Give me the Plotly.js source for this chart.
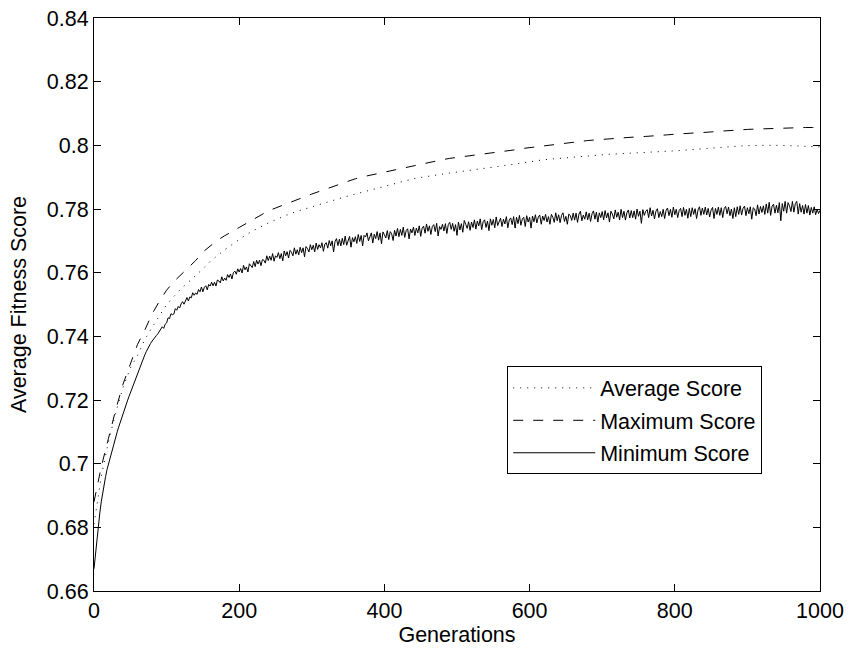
<!DOCTYPE html>
<html>
<head>
<meta charset="utf-8">
<script src="https://cdn.plot.ly/plotly-3.0.1.min.js"></script>
<style>html,body{margin:0;padding:0;background:#fff;}#chart{width:850px;height:654px;}</style>
</head>
<body>
<div id="chart"></div>
<script>
// Generations for the smooth series (step 10)
var genCoarse = [];
for (var g = 0; g <= 1000; g += 10) genCoarse.push(g);
// Generations for the noisy minimum series (step 2)
var genFine = [];
for (var h = 0; h <= 1000; h += 2) genFine.push(h);

var averageScore = [
0.6810,0.6960,0.7070,0.7160,0.7240,0.7300,0.7340,0.7390,0.7428,0.7465,
0.7500,0.7525,0.7550,0.7570,0.7590,0.7612,0.7635,0.7655,0.7672,0.7688,
0.7705,0.7720,0.7733,0.7745,0.7756,0.7766,0.7776,0.7785,0.7793,0.7800,
0.7808,0.7815,0.7822,0.7829,0.7835,0.7841,0.7847,0.7853,0.7860,0.7866,
0.7872,0.7878,0.7884,0.7890,0.7895,0.7899,0.7903,0.7907,0.7910,0.7913,
0.7916,0.7919,0.7922,0.7925,0.7928,0.7930,0.7933,0.7937,0.7941,0.7945,
0.7949,0.7952,0.7955,0.7957,0.7959,0.7962,0.7964,0.7966,0.7967,0.7968,
0.7970,0.7972,0.7973,0.7974,0.7975,0.7976,0.7977,0.7979,0.7980,0.7982,
0.7983,0.7984,0.7986,0.7988,0.7990,0.7992,0.7994,0.7996,0.7997,0.7998,
0.7999,0.8000,0.8000,0.8000,0.8000,0.8000,0.7999,0.7998,0.7997,0.7996,
0.7995];

var maximumScore = [
0.6880,0.6990,0.7080,0.7170,0.7250,0.7310,0.7375,0.7420,0.7470,0.7510,
0.7545,0.7572,0.7595,0.7615,0.7638,0.7665,0.7685,0.7702,0.7716,0.7728,
0.7742,0.7755,0.7768,0.7782,0.7794,0.7803,0.7812,0.7820,0.7830,0.7840,
0.7847,0.7855,0.7863,0.7871,0.7879,0.7888,0.7895,0.7901,0.7906,0.7911,
0.7916,0.7921,0.7926,0.7932,0.7937,0.7942,0.7947,0.7951,0.7955,0.7959,
0.7962,0.7964,0.7966,0.7969,0.7972,0.7975,0.7978,0.7982,0.7986,0.7990,
0.7993,0.7996,0.7999,0.8001,0.8004,0.8007,0.8010,0.8013,0.8015,0.8017,
0.8019,0.8020,0.8022,0.8024,0.8026,0.8027,0.8028,0.8029,0.8031,0.8033,
0.8035,0.8036,0.8038,0.8039,0.8041,0.8042,0.8044,0.8046,0.8048,0.8049,
0.8050,0.8051,0.8052,0.8053,0.8054,0.8055,0.8056,0.8056,0.8056,0.8056,
0.8056];

var minimumScore = [
// 0 - 100
0.6670,0.6720,0.6765,0.6805,0.6845,0.6880,0.6910,0.6935,0.6960,0.6982,
0.7000,0.7017,0.7033,0.7050,0.7067,0.7083,0.7100,0.7115,0.7130,0.7145,
0.7160,0.7172,0.7185,0.7197,0.7210,0.7222,0.7235,0.7248,0.7262,0.7275,
0.7288,0.7298,0.7308,0.7318,0.7330,0.7342,0.7352,0.7362,0.7370,0.7378,
0.7385,0.7392,0.7398,0.7403,0.7408,0.7415,0.7420,0.7430,0.7425,0.7438,
0.7442,
// 102 - 300
0.7458,0.7456,0.7471,0.7468,0.7470,0.7487,0.7482,0.7494,0.7489,0.7502,
0.7509,0.7501,0.7513,0.7522,0.7511,0.7524,0.7521,0.7537,0.7529,0.7536,
0.7532,0.7547,0.7540,0.7555,0.7540,0.7554,0.7559,0.7546,0.7563,0.7558,
0.7570,0.7559,0.7570,0.7558,0.7577,0.7574,0.7568,0.7587,0.7574,0.7583,
0.7576,0.7594,0.7585,0.7596,0.7580,0.7600,0.7605,0.7595,0.7612,0.7602,
0.7613,0.7599,0.7623,0.7609,0.7618,0.7602,0.7628,0.7623,0.7616,0.7635,
0.7619,0.7639,0.7627,0.7639,0.7622,0.7641,0.7639,0.7630,0.7653,0.7638,
0.7652,0.7639,0.7660,0.7636,0.7653,0.7648,0.7663,0.7644,0.7660,0.7637,
0.7668,0.7653,0.7666,0.7646,0.7670,0.7664,0.7653,0.7678,0.7658,0.7672,
0.7656,0.7680,0.7663,0.7678,0.7650,0.7682,0.7676,0.7665,0.7688,0.7672,
// 302 - 500
0.7686,0.7665,0.7693,0.7673,0.7688,0.7678,0.7694,0.7667,0.7690,0.7694,
0.7677,0.7701,0.7684,0.7700,0.7665,0.7698,0.7707,0.7685,0.7705,0.7684,
0.7708,0.7688,0.7715,0.7686,0.7704,0.7714,0.7680,0.7710,0.7697,0.7713,
0.7692,0.7720,0.7698,0.7717,0.7684,0.7717,0.7712,0.7725,0.7700,0.7717,
0.7725,0.7693,0.7721,0.7707,0.7729,0.7702,0.7725,0.7691,0.7728,0.7719,
0.7709,0.7732,0.7704,0.7729,0.7722,0.7701,0.7733,0.7715,0.7739,0.7713,
0.7736,0.7717,0.7743,0.7711,0.7732,0.7738,0.7706,0.7737,0.7725,0.7743,
0.7717,0.7740,0.7725,0.7747,0.7714,0.7740,0.7746,0.7724,0.7753,0.7730,
0.7747,0.7720,0.7745,0.7751,0.7729,0.7755,0.7715,0.7745,0.7736,0.7752,
0.7731,0.7754,0.7723,0.7751,0.7758,0.7736,0.7755,0.7730,0.7751,0.7717,
// 502 - 700
0.7759,0.7734,0.7754,0.7727,0.7764,0.7752,0.7739,0.7760,0.7733,0.7759,
0.7742,0.7766,0.7737,0.7762,0.7747,0.7769,0.7735,0.7760,0.7766,0.7742,
0.7762,0.7732,0.7769,0.7749,0.7767,0.7741,0.7775,0.7748,0.7762,0.7771,
0.7745,0.7768,0.7753,0.7776,0.7741,0.7766,0.7772,0.7751,0.7776,0.7740,
0.7774,0.7754,0.7780,0.7749,0.7769,0.7774,0.7745,0.7779,0.7759,0.7774,
0.7740,0.7778,0.7760,0.7782,0.7756,0.7775,0.7781,0.7752,0.7778,0.7764,
0.7783,0.7759,0.7776,0.7752,0.7783,0.7774,0.7758,0.7788,0.7763,0.7782,
0.7757,0.7780,0.7788,0.7761,0.7777,0.7752,0.7784,0.7780,0.7764,0.7787,
0.7765,0.7787,0.7758,0.7784,0.7793,0.7763,0.7781,0.7768,0.7791,0.7766,
0.7787,0.7761,0.7785,0.7794,0.7768,0.7790,0.7759,0.7788,0.7773,0.7792,
// 702 - 900
0.7766,0.7795,0.7772,0.7788,0.7759,0.7793,0.7784,0.7769,0.7797,0.7774,
0.7790,0.7766,0.7799,0.7773,0.7793,0.7765,0.7788,0.7797,0.7772,0.7795,
0.7773,0.7794,0.7768,0.7800,0.7777,0.7793,0.7755,0.7798,0.7780,0.7793,
0.7798,0.7773,0.7804,0.7778,0.7796,0.7769,0.7793,0.7801,0.7773,0.7792,
0.7776,0.7799,0.7770,0.7796,0.7803,0.7779,0.7799,0.7774,0.7806,0.7782,
0.7799,0.7773,0.7795,0.7802,0.7776,0.7805,0.7780,0.7799,0.7771,0.7802,
0.7776,0.7804,0.7783,0.7801,0.7770,0.7797,0.7807,0.7780,0.7803,0.7783,
0.7806,0.7781,0.7802,0.7775,0.7797,0.7805,0.7770,0.7802,0.7783,0.7806,
0.7780,0.7804,0.7773,0.7801,0.7808,0.7785,0.7806,0.7779,0.7800,0.7770,
0.7804,0.7776,0.7807,0.7783,0.7810,0.7781,0.7802,0.7809,0.7779,0.7804,
// 902 - 1000
0.7785,0.7807,0.7768,0.7804,0.7800,0.7779,0.7813,0.7784,0.7808,0.7789,
0.7810,0.7783,0.7816,0.7787,0.7821,0.7780,0.7809,0.7815,0.7787,0.7812,
0.7788,0.7820,0.7763,0.7817,0.7793,0.7824,0.7787,0.7820,0.7810,0.7792,
0.7824,0.7790,0.7817,0.7824,0.7784,0.7817,0.7790,0.7811,0.7784,0.7814,
0.7787,0.7811,0.7781,0.7805,0.7787,0.7807,0.7782,0.7799,0.7786,0.7796];

var seriesNames = ['Average Score', 'Maximum Score', 'Minimum Score'];
var xTickVals = [0, 200, 400, 600, 800, 1000];
var xTickText = ['0', '200', '400', '600', '800', '1000'];
var yTickVals = [0.66, 0.68, 0.70, 0.72, 0.74, 0.76, 0.78, 0.80, 0.82, 0.84];
var yTickText = ['0.66', '0.68', '0.7', '0.72', '0.74', '0.76', '0.78', '0.8', '0.82', '0.84'];

var FONT = 'Liberation Sans, Arial, Helvetica, sans-serif';
var FS = 21.5;

var traces = [
  {x: genCoarse, y: averageScore, name: seriesNames[0], mode: 'lines', legendgroup: 'a',
   line: {color: '#000', width: 1, dash: '1px,6px'}},
  {x: genCoarse, y: maximumScore, name: seriesNames[1], mode: 'lines', legendgroup: 'b',
   line: {color: '#000', width: 1, dash: '10px,10px'}},
  {x: genFine, y: minimumScore, name: seriesNames[2], mode: 'lines', legendgroup: 'c',
   line: {color: '#000', width: 1}}
];

var axisCommon = {
  showline: true, linecolor: '#000', linewidth: 1, mirror: 'ticks',
  ticks: 'inside', ticklen: 7, tickcolor: '#000', tickwidth: 1,
  showgrid: false, zeroline: false, automargin: false,
  tickfont: {family: FONT, size: FS, color: '#000'}
};

var layout = {
  width: 850, height: 654,
  margin: {l: 94, r: 30, t: 18, b: 63},
  paper_bgcolor: '#fff', plot_bgcolor: '#fff',
  showlegend: true,
  font: {family: FONT, size: FS, color: '#000'},
  xaxis: Object.assign({}, axisCommon, {
    range: [0, 1000], tickmode: 'array', tickvals: xTickVals, ticktext: xTickText,
    title: {text: 'Generations', font: {family: FONT, size: FS, color: '#000'}, standoff: 2}
  }),
  yaxis: Object.assign({}, axisCommon, {
    range: [0.66, 0.84], tickmode: 'array', tickvals: yTickVals, ticktext: yTickText,
    title: {text: 'Average Fitness Score', font: {family: FONT, size: FS, color: '#000'}, standoff: 14}
  }),
  legend: {
    x: 0.9204, xanchor: 'right', y: 0.392, yanchor: 'top',
    bordercolor: '#000', borderwidth: 1, bgcolor: '#fff',
    font: {family: FONT, size: FS, color: '#000'},
    traceorder: 'grouped', tracegroupgap: 1.5, itemwidth: 82
  }
};

Plotly.newPlot('chart', traces, layout, {displayModeBar: false, staticPlot: true});
</script>
</body>
</html>
